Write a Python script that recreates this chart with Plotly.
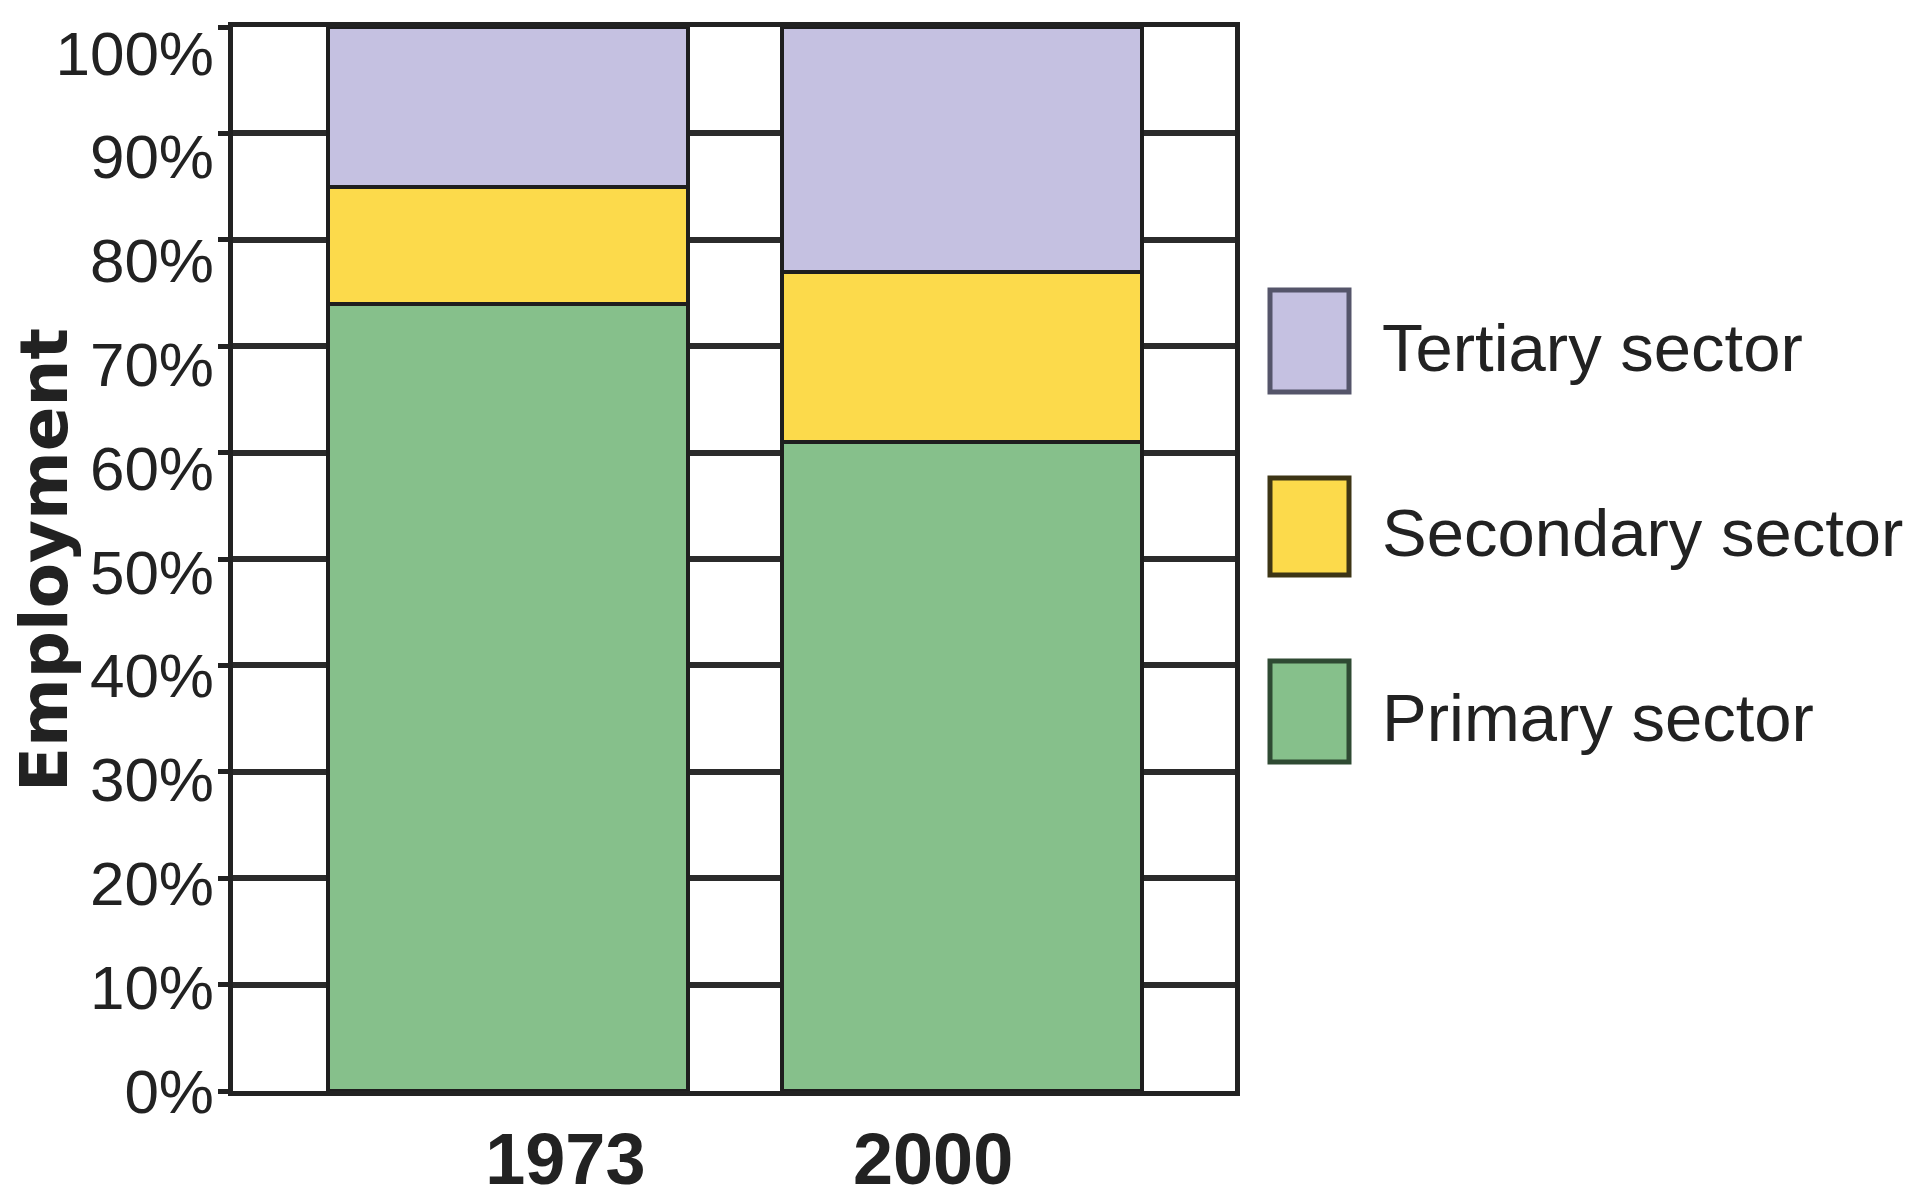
import plotly.graph_objects as go

# ---- data ----
years = ["1973", "2000"]
sectors = ["Primary sector", "Secondary sector", "Tertiary sector"]
primary = [74, 61]
secondary = [11, 16]
tertiary = [15, 23]
y_ticks = list(range(0, 101, 10))
y_tick_text = [f"{v}%" for v in y_ticks]

# ---- style ----
colors = {"Primary sector": "#86C08B", "Secondary sector": "#FCDA4B", "Tertiary sector": "#C5C1E1"}
swatch_lines = {"Primary sector": "#2f4a33", "Secondary sector": "#3d3515", "Tertiary sector": "#55556a"}
label_offsets = [0.126, -0.064]   # year labels sit slightly off the bar centres
TXT = "#222222"
SANS = "Liberation Sans, Arial, sans-serif"

W, H = 1920, 1200
L, R, T, B = 233, 1235, 27, 1091  # plot area in pixels


def px_x(px):
    return (px - L) / (R - L)


def px_y(py):
    return 1 - (py - T) / (B - T)


xpos = list(range(len(years)))
values = {"Primary sector": primary, "Secondary sector": secondary, "Tertiary sector": tertiary}

fig = go.Figure()
for s in sectors:
    fig.add_trace(go.Bar(
        x=xpos, y=values[s], name=s, width=0.793,
        marker=dict(color=colors[s], line=dict(color="#1e1e1e", width=4)),
        showlegend=False,
    ))

# helper trace so the label axis exists
fig.add_trace(go.Scatter(x=[], y=[], yaxis="y2", showlegend=False, hoverinfo="skip"))

fig.update_layout(
    width=W, height=H,
    margin=dict(l=L, r=W - R, t=T, b=H - B, pad=0),
    paper_bgcolor="white", plot_bgcolor="white",
    barmode="stack",
    xaxis=dict(
        type="linear", range=[-0.606, 1.601], automargin=False,
        tickvals=[i + o for i, o in zip(xpos, label_offsets)], ticktext=years,
        tickfont=dict(family=SANS, size=72, color=TXT, weight="bold"),
        ticks="", ticklabelstandoff=2,
        showgrid=False, zeroline=False,
        showline=True, linecolor="#222222", linewidth=5, mirror=True,
    ),
    yaxis=dict(
        range=[0, 100], tickvals=y_ticks, showticklabels=False, automargin=False,
        showgrid=True, gridcolor="#2b2b2b", gridwidth=6,
        zeroline=False,
        showline=True, linecolor="#222222", linewidth=5, mirror=True,
        ticks="outside", ticklen=10, tickwidth=5, tickcolor="#222222",
    ),
    yaxis2=dict(
        overlaying="y", side="left", anchor="x", automargin=False,
        range=[0, 102.5], tickvals=y_ticks, ticktext=y_tick_text,
        tickfont=dict(family=SANS, size=62, color=TXT),
        showgrid=False, zeroline=False, showline=False, ticks="",
        ticklabelstandoff=18,
    ),
)

# y-axis title
fig.add_annotation(
    text="Employment", textangle=-90, showarrow=False,
    xref="paper", yref="paper", x=px_x(44), y=px_y(560),
    xanchor="center", yanchor="middle", borderpad=0,
    font=dict(family="DejaVu Sans, Liberation Sans, sans-serif", size=66, color=TXT, weight="bold"),
)

# manual legend (top to bottom: tertiary, secondary, primary)
legend_rows = [("Tertiary sector", 290, 392), ("Secondary sector", 478, 575), ("Primary sector", 661, 762)]
for name, y0, y1 in legend_rows:
    fig.add_shape(
        type="rect", xref="paper", yref="paper",
        x0=px_x(1270), x1=px_x(1349), y0=px_y(y1), y1=px_y(y0),
        fillcolor=colors[name], line=dict(color=swatch_lines[name], width=5),
    )
    fig.add_annotation(
        text=name, showarrow=False, xref="paper", yref="paper",
        x=px_x(1380), y=px_y((y0 + y1) / 2 + 6), xanchor="left", yanchor="middle",
        font=dict(family=SANS, size=67, color=TXT),
    )

fig.write_html("out.html")
